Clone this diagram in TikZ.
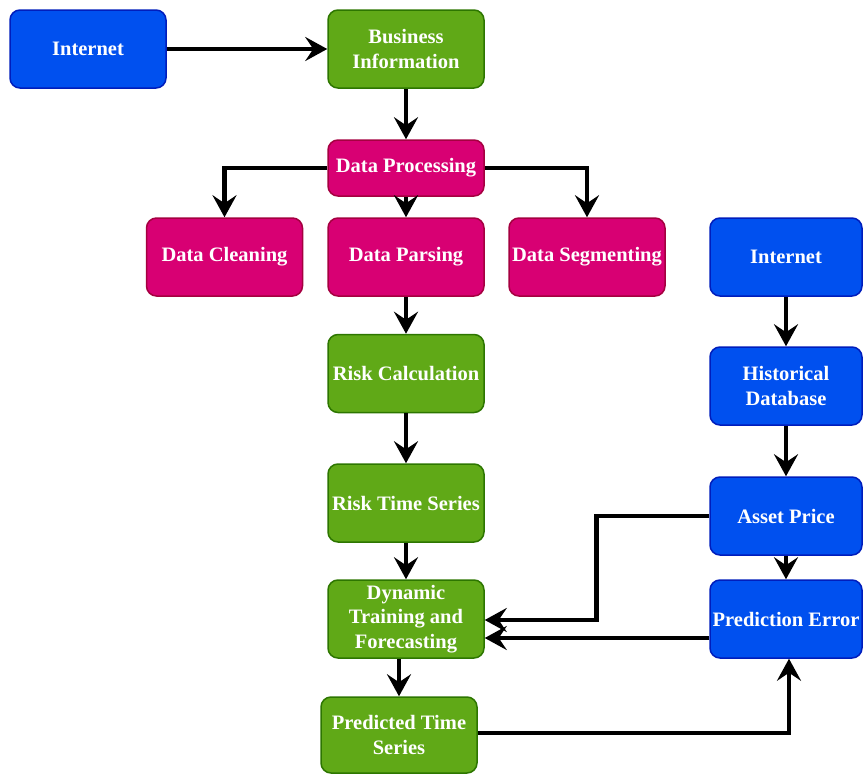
\documentclass[tikz,border=0pt]{standalone}
\usepackage{fontspec}
\setmainfont{Liberation Serif}
\usetikzlibrary{arrows.meta,calc}
\definecolor{bfill}{HTML}{0050EF}
\definecolor{bline}{HTML}{001DBC}
\definecolor{gfill}{HTML}{60A917}
\definecolor{gline}{HTML}{2D7600}
\definecolor{pfill}{HTML}{D80073}
\definecolor{pline}{HTML}{A50040}
\tikzset{
  box/.style={rounded corners=10pt, line width=1.5pt, minimum width=156pt, minimum height=78pt,
    inner sep=0pt, align=center, text=white, font=\fontsize{20.5}{24.5}\selectfont\bfseries},
  bluebox/.style={box, fill=bfill, draw=bline, minimum width=152pt},
  greenbox/.style={box, fill=gfill, draw=gline},
  pinkbox/.style={box, fill=pfill, draw=pline},
  conn/.style={line width=4.5pt, -{Stealth[length=22pt, width=24pt, inset=8pt]}}
}
\begin{document}
\begin{tikzpicture}[x=1pt, y=-1pt]
\useasboundingbox (0,0) rectangle (863,774);
\node[bluebox, minimum width=156pt] (inet1) at (88,49) {Internet};
\node[greenbox] (biz) at (406,49) {Business\\Information};
\node[pinkbox, minimum height=56pt] (dp) at (406,168) {Data Processing};
\node[pinkbox] (clean) at (224.5,257) {Data Cleaning};
\node[pinkbox] (parse) at (406,257) {Data Parsing};
\node[pinkbox] (seg) at (587,257) {Data Segmenting};
\node[bluebox] (inet2) at (786,257) {Internet};
\node[greenbox] (risk) at (406,373.5) {Risk Calculation};
\node[bluebox] (hist) at (786,386) {Historical\\Database};
\node[greenbox] (rts) at (406,503) {Risk Time Series};
\node[bluebox] (asset) at (786,516) {Asset Price};
\node[greenbox] (dyn) at (406,619) {Dynamic\\Training and\\Forecasting};
\node[bluebox] (pe) at (786,619) {Prediction Error};
\node[greenbox, minimum height=76pt] (pred) at (399,735) {Predicted Time\\Series};

\draw[conn] (inet1) -- (biz);
\draw[conn] (biz) -- (dp);
\draw[conn] (dp.west) -| (clean.north);
\draw[conn] (dp) -- (parse);
\draw[conn] (dp.east) -| (seg.north);
\draw[conn] (parse) -- (risk);
\draw[conn] (risk) -- (rts);
\draw[conn] (rts) -- (dyn);
\draw[conn] (pred.north |- dyn.south) -- (pred.north);
\draw[conn] (inet2) -- (hist);
\draw[conn] (hist) -- (asset);
\draw[conn] (asset) -- (pe);
\draw[conn] (asset.west) -- ++(-113,0) |- ([yshift=-1pt]dyn.east);
\draw[conn] ([yshift=-19pt]pe.west) -- ([yshift=-19pt]dyn.east);
\draw[conn] ([yshift=2pt]pred.east) -| ([xshift=3pt]pe.south);
\end{tikzpicture}
\end{document}
